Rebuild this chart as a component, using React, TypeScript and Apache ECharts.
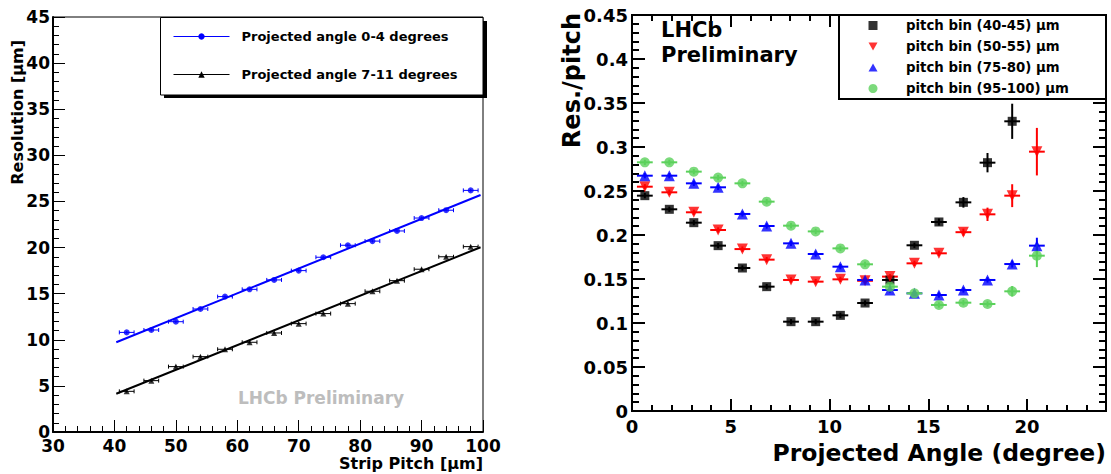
import React, { useEffect, useRef } from 'react';
import * as echarts from 'echarts';

// ---------- Left panel: resolution vs strip pitch ----------
const pitch = [42, 46, 50, 54, 58, 62, 66, 70, 74, 78, 82, 86, 90, 94, 98];
const res0to4 = [10.8, 11.06, 11.96, 13.34, 14.68, 15.47, 16.49, 17.5, 18.95, 20.25, 20.7, 21.8, 23.2, 24.05, 26.2];
const res7to11 = [4.41, 5.57, 7.09, 8.17, 8.97, 9.73, 10.74, 11.75, 12.84, 13.92, 15.26, 16.41, 17.65, 19.0, 20.1];
const pitchErr = 1.2;
const resErr = 0.15;
const fitPitch = [40.3, 99.6];
const fit0to4 = [9.73, 25.7];
const fit7to11 = [4.15, 20.03];
const leftLegend = ['Projected angle 0-4 degrees', 'Projected angle 7-11 degrees'];

// ---------- Right panel: res/pitch vs projected angle ----------
const angles = [0.65, 1.89, 3.13, 4.36, 5.59, 6.82, 8.05, 9.3, 10.55, 11.8, 13.06, 14.3, 15.54, 16.78, 18.0, 19.25, 20.5];
const bin40 = [0.2447, 0.2292, 0.214, 0.1879, 0.1625, 0.1413, 0.1015, 0.1015, 0.1087, 0.1227, 0.1489, 0.1883, 0.2148, 0.2371, 0.2822, 0.3292];
const bin50 = [0.2549, 0.2485, 0.2258, 0.2057, 0.184, 0.172, 0.1489, 0.147, 0.1496, 0.148, 0.1527, 0.1678, 0.1792, 0.2032, 0.2235, 0.2447, 0.2947];
const bin75 = [0.2674, 0.2674, 0.2587, 0.2542, 0.2239, 0.2102, 0.1905, 0.1784, 0.164, 0.1489, 0.1375, 0.1337, 0.1318, 0.1375, 0.1489, 0.167, 0.1879];
const bin95 = [0.2826, 0.2826, 0.272, 0.2652, 0.2587, 0.2379, 0.2106, 0.2041, 0.1848, 0.1667, 0.1413, 0.1337, 0.1205, 0.1231, 0.1216, 0.136, 0.1765];
const err40 = [0.003, 0.003, 0.003, 0.003, 0.003, 0.003, 0.003, 0.003, 0.003, 0.003, 0.003, 0.003, 0.004, 0.006, 0.011, 0.02];
const err50 = [0.003, 0.003, 0.003, 0.003, 0.003, 0.003, 0.003, 0.003, 0.003, 0.003, 0.003, 0.003, 0.003, 0.004, 0.0076, 0.013, 0.027];
const err75 = [0.003, 0.003, 0.003, 0.003, 0.003, 0.003, 0.003, 0.003, 0.003, 0.003, 0.003, 0.003, 0.003, 0.003, 0.003, 0.004, 0.009];
const err95 = [0.003, 0.003, 0.003, 0.003, 0.003, 0.003, 0.003, 0.003, 0.003, 0.003, 0.003, 0.003, 0.003, 0.003, 0.003, 0.006, 0.013];
const angleErr = 0.4;
const rightLegend = ['pitch bin (40-45) μm', 'pitch bin (50-55) μm', 'pitch bin (75-80) μm', 'pitch bin (95-100) μm'];

const F = 'DejaVu Sans';
const BLUE = '#0000ff';
const RED = '#ff0000';
const GREEN = '#5bd15b';
const BLACK = '#000000';

function errRender(color: string, lw: number, cap: number) {
  return (params: any, api: any) => {
    const x = api.value(0), y = api.value(1), ex = api.value(2), ey = api.value(3);
    const l = api.coord([x - ex, y]);
    const r = api.coord([x + ex, y]);
    const t = api.coord([x, y + ey]);
    const b = api.coord([x, y - ey]);
    const style = { stroke: color, lineWidth: lw };
    const children: any[] = [
      { type: 'line', shape: { x1: l[0], y1: l[1], x2: r[0], y2: r[1] }, style },
      { type: 'line', shape: { x1: t[0], y1: t[1], x2: b[0], y2: b[1] }, style },
    ];
    if (cap > 0) {
      children.push({ type: 'line', shape: { x1: l[0], y1: l[1] - cap, x2: l[0], y2: l[1] + cap }, style });
      children.push({ type: 'line', shape: { x1: r[0], y1: r[1] - cap, x2: r[0], y2: r[1] + cap }, style });
    }
    return { type: 'group', children };
  };
}

function errSeries(xs: number[], ys: number[], ex: number, eys: number[] | number, color: string, lw: number, cap: number, xi: number, yi: number) {
  return {
    type: 'custom',
    xAxisIndex: xi,
    yAxisIndex: yi,
    renderItem: errRender(color, lw, cap),
    encode: { x: 0, y: 1 },
    data: ys.map((v, i) => [xs[i], v, ex, Array.isArray(eys) ? eys[i] : eys]),
    z: 2,
    silent: true,
  };
}

const tickLabel = (size: number, margin: number) => ({
  color: '#000', fontFamily: F, fontWeight: 'bold', fontSize: size, margin,
});

export default function App() {
  const ref = useRef<HTMLDivElement>(null);
  useEffect(() => {
    if (!ref.current) return;
    const chart = echarts.init(ref.current, undefined, { renderer: 'svg' });
    const rightXMajor = (pos: string, labels: boolean) => ({
      type: 'value', gridIndex: 1, min: 0, max: 24, interval: 5, position: pos,
      axisLine: { show: true, onZero: false, lineStyle: { color: '#000', width: 2 } },
      axisTick: { show: true, inside: true, length: 12, lineStyle: { color: '#000', width: 2 } },
      axisLabel: labels ? { ...tickLabel(18, 6), showMaxLabel: false } : { show: false },
      splitLine: { show: false },
    });
    const rightXMinor = (pos: string) => ({
      type: 'value', gridIndex: 1, min: 0, max: 24, interval: 1, position: pos,
      axisLine: { show: false, onZero: false },
      axisTick: { show: true, inside: true, length: 6, lineStyle: { color: '#000', width: 2 } },
      axisLabel: { show: false },
      splitLine: { show: false },
    });
    const rightY = (pos: string, labels: boolean) => ({
      type: 'value', gridIndex: 1, min: 0, max: 0.45, interval: 0.05, position: pos,
      axisLine: { show: true, onZero: false, lineStyle: { color: '#000', width: 2 } },
      axisTick: { show: true, inside: true, length: 13, lineStyle: { color: '#000', width: 2 } },
      minorTick: { show: true, splitNumber: 5, length: 7, lineStyle: { color: '#000', width: 2 } },
      axisLabel: labels ? tickLabel(18, 4) : { show: false },
      splitLine: { show: false },
    });

    const option: any = {
      animation: false,
      backgroundColor: '#ffffff',
      grid: [
        { left: 53, top: 17, width: 430, height: 415, show: true, borderColor: '#000', borderWidth: 1, backgroundColor: 'transparent' },
        { left: 632, top: 15, width: 474, height: 396, show: true, borderColor: '#000', borderWidth: 2, backgroundColor: 'transparent' },
      ],
      xAxis: [
        {
          type: 'value', gridIndex: 0, min: 30, max: 100, interval: 10, position: 'bottom',
          axisLine: { show: true, onZero: false, lineStyle: { color: '#000', width: 2 } },
          axisTick: { show: true, inside: true, length: 12, lineStyle: { color: '#000', width: 1 } },
          minorTick: { show: true, splitNumber: 5, length: 6, lineStyle: { color: '#000', width: 1 } },
          axisLabel: tickLabel(17, 5),
          splitLine: { show: false },
        },
        rightXMajor('bottom', true),
        rightXMinor('bottom'),
        rightXMajor('top', false),
        rightXMinor('top'),
      ],
      yAxis: [
        {
          type: 'value', gridIndex: 0, min: 0, max: 45, interval: 5, position: 'left',
          axisLine: { show: true, onZero: false, lineStyle: { color: '#000', width: 2 } },
          axisTick: { show: true, inside: true, length: 12, lineStyle: { color: '#000', width: 1 } },
          minorTick: { show: true, splitNumber: 5, length: 6, lineStyle: { color: '#000', width: 1 } },
          axisLabel: tickLabel(17, 3),
          splitLine: { show: false },
        },
        rightY('left', true),
        rightY('right', false),
      ],
      legend: [
        {
          data: leftLegend, orient: 'vertical', left: 173, top: 30, padding: 0,
          itemWidth: 56, itemHeight: 8, itemGap: 25,
          selectedMode: false, z: 20,
          lineStyle: { width: 1 },
          textStyle: { fontFamily: F, fontWeight: 'bold', fontSize: 13, color: '#000', padding: [0, 0, 0, 7] },
        },
        {
          data: [
            { name: rightLegend[0], icon: 'rect' },
            { name: rightLegend[1], icon: 'path://M0,0 L10,0 L5,9 Z' },
            { name: rightLegend[2], icon: 'path://M5,0 L10,9 L0,9 Z' },
            { name: rightLegend[3], icon: 'circle' },
          ],
          orient: 'vertical', left: 868.5, top: 19, padding: 0,
          itemWidth: 9, itemHeight: 9, itemGap: 8,
          selectedMode: false, z: 20,
          textStyle: { fontFamily: F, fontWeight: 'bold', fontSize: 13.3, color: '#000', padding: [0, 0, 0, 23.5] },
        },
      ],
      graphic: [
        { type: 'rect', z: 10, shape: { x: 164, y: 21, width: 323, height: 77 }, style: { fill: '#000' } },
        { type: 'rect', z: 11, shape: { x: 160.5, y: 17.5, width: 322.5, height: 77.5 }, style: { fill: '#fff', stroke: '#000', lineWidth: 1 } },
        { type: 'rect', z: 11, shape: { x: 839, y: 15, width: 267, height: 84 }, style: { fill: '#fff', stroke: '#000', lineWidth: 2 } },
        { type: 'text', z: 12, x: 321, y: 398, style: { text: 'LHCb Preliminary', fill: '#bdbdbd', fontFamily: F, fontWeight: 'bold', fontSize: 17, align: 'center', verticalAlign: 'middle' } },
        { type: 'text', z: 12, x: 661, y: 30, style: { text: 'LHCb', fill: '#000', fontFamily: F, fontWeight: 'bold', fontSize: 21, align: 'left', verticalAlign: 'middle' } },
        { type: 'text', z: 12, x: 661, y: 55, style: { text: 'Preliminary', fill: '#000', fontFamily: F, fontWeight: 'bold', fontSize: 21, align: 'left', verticalAlign: 'middle' } },
        { type: 'text', z: 12, x: 17, y: 40, rotation: Math.PI / 2, style: { text: 'Resolution [μm]', fill: '#000', fontFamily: F, fontWeight: 'bold', fontSize: 16, align: 'right', verticalAlign: 'middle' } },
        { type: 'text', z: 12, x: 483, y: 463, style: { text: 'Strip Pitch [μm]', fill: '#000', fontFamily: F, fontWeight: 'bold', fontSize: 16, align: 'right', verticalAlign: 'middle' } },
        { type: 'text', z: 12, x: 572, y: 13, rotation: Math.PI / 2, style: { text: 'Res./pitch', fill: '#000', fontFamily: F, fontWeight: 'bold', fontSize: 24, align: 'right', verticalAlign: 'middle' } },
        { type: 'text', z: 12, x: 1106, y: 453, style: { text: 'Projected Angle (degree)', fill: '#000', fontFamily: F, fontWeight: 'bold', fontSize: 23.5, align: 'right', verticalAlign: 'middle' } },
      ],
      series: [
        // left panel
        errSeries(pitch, res0to4, pitchErr, resErr, BLUE, 1, 2, 0, 0),
        errSeries(pitch, res7to11, pitchErr, resErr, BLACK, 1, 2, 0, 0),
        {
          name: leftLegend[0], type: 'line', xAxisIndex: 0, yAxisIndex: 0,
          data: [[fitPitch[0], fit0to4[0]], [fitPitch[1], fit0to4[1]]],
          symbol: 'circle', symbolSize: 6, showSymbol: false,
          lineStyle: { color: BLUE, width: 2 }, itemStyle: { color: BLUE }, z: 3, silent: true,
        },
        {
          name: leftLegend[1], type: 'line', xAxisIndex: 0, yAxisIndex: 0,
          data: [[fitPitch[0], fit7to11[0]], [fitPitch[1], fit7to11[1]]],
          symbol: 'triangle', symbolSize: 6, showSymbol: false,
          lineStyle: { color: BLACK, width: 2 }, itemStyle: { color: BLACK }, z: 3, silent: true,
        },
        {
          type: 'scatter', xAxisIndex: 0, yAxisIndex: 0, symbol: 'circle', symbolSize: 6,
          itemStyle: { color: BLUE }, data: pitch.map((p, i) => [p, res0to4[i]]), z: 4,
        },
        {
          type: 'scatter', xAxisIndex: 0, yAxisIndex: 0, symbol: 'triangle', symbolSize: 6,
          itemStyle: { color: BLACK }, data: pitch.map((p, i) => [p, res7to11[i]]), z: 4,
        },
        // right panel
        errSeries(angles, bin40, angleErr, err40, BLACK, 2, 0, 1, 1),
        {
          name: rightLegend[0], type: 'scatter', xAxisIndex: 1, yAxisIndex: 1, symbol: 'rect', symbolSize: 9,
          itemStyle: { color: BLACK }, data: bin40.map((v, i) => [angles[i], v]), z: 2,
        },
        errSeries(angles, bin50, angleErr, err50, RED, 2, 0, 1, 1),
        {
          name: rightLegend[1], type: 'scatter', xAxisIndex: 1, yAxisIndex: 1, symbol: 'triangle', symbolRotate: 180, symbolSize: 11,
          itemStyle: { color: RED }, data: bin50.map((v, i) => [angles[i], v]), z: 2,
        },
        errSeries(angles, bin75, angleErr, err75, BLUE, 2, 0, 1, 1),
        {
          name: rightLegend[2], type: 'scatter', xAxisIndex: 1, yAxisIndex: 1, symbol: 'triangle', symbolSize: 11,
          itemStyle: { color: BLUE }, data: bin75.map((v, i) => [angles[i], v]), z: 2,
        },
        errSeries(angles, bin95, angleErr, err95, GREEN, 2, 0, 1, 1),
        {
          name: rightLegend[3], type: 'scatter', xAxisIndex: 1, yAxisIndex: 1, symbol: 'circle', symbolSize: 10,
          itemStyle: { color: GREEN }, data: bin95.map((v, i) => [angles[i], v]), z: 2,
        },
      ],
    };
    chart.setOption(option);
    return () => chart.dispose();
  }, []);
  return <div ref={ref} style={{ position: 'absolute', left: 0, top: 0, width: 1111, height: 474 }} />;
}
